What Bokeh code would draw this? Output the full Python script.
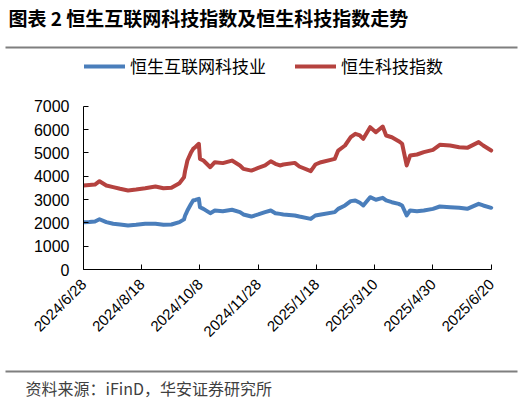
import math
import pandas as pd
from bokeh.plotting import figure
from bokeh.models import (ColumnDataSource, Range1d, FixedTicker, Label,
                          BoxAnnotation, Legend, LegendItem)
from bokeh.embed import file_html
from bokeh.resources import INLINE

dates = [
    "2024-06-28", "2024-07-03", "2024-07-08", "2024-07-12", "2024-07-18", "2024-07-24",
    "2024-07-30", "2024-08-06", "2024-08-13", "2024-08-21", "2024-08-30", "2024-09-06",
    "2024-09-13", "2024-09-20", "2024-09-24", "2024-09-25", "2024-09-26", "2024-09-27",
    "2024-09-30", "2024-10-02", "2024-10-04", "2024-10-07", "2024-10-08", "2024-10-11",
    "2024-10-17", "2024-10-21", "2024-10-28", "2024-11-05", "2024-11-12", "2024-11-15",
    "2024-11-22", "2024-11-28", "2024-12-04", "2024-12-09", "2024-12-13", "2024-12-17",
    "2024-12-20", "2024-12-30", "2025-01-03", "2025-01-13", "2025-01-17", "2025-01-22",
    "2025-02-03", "2025-02-06", "2025-02-12", "2025-02-17", "2025-02-21", "2025-02-25",
    "2025-02-28", "2025-03-06", "2025-03-11", "2025-03-17", "2025-03-20", "2025-03-25",
    "2025-03-31", "2025-04-03", "2025-04-07", "2025-04-10", "2025-04-16", "2025-04-22",
    "2025-04-30", "2025-05-06", "2025-05-15", "2025-05-23", "2025-05-30", "2025-06-09",
    "2025-06-13", "2025-06-20",
]
hs_internet_tech = [
    2030, 2040, 2060, 2155, 2030, 1960,
    1930, 1885, 1915, 1960, 1960, 1915,
    1930, 2030, 2150, 2315, 2420, 2530,
    2800, 2960, 2980, 3030, 2670, 2600,
    2415, 2530, 2500, 2560, 2460, 2360,
    2270, 2360, 2460, 2530, 2415, 2385,
    2360, 2315, 2270, 2170, 2315, 2360,
    2460, 2600, 2745, 2930, 2960, 2860,
    2745, 3100, 2990, 3070, 2960, 2885,
    2815, 2745, 2315, 2530, 2500, 2530,
    2600, 2700, 2670, 2645, 2600, 2815,
    2745, 2645,
]
hs_tech_index = [
    3600, 3620, 3640, 3785, 3600, 3530,
    3460, 3390, 3430, 3485, 3560, 3485,
    3500, 3700, 3950, 4240, 4450, 4670,
    5000, 5170, 5250, 5390, 4740, 4670,
    4385, 4600, 4560, 4670, 4460, 4315,
    4240, 4355, 4460, 4640, 4530, 4460,
    4500, 4570, 4415, 4215, 4500, 4600,
    4740, 5100, 5315, 5670, 5815, 5745,
    5600, 6100, 5885, 6130, 5745, 5670,
    5500, 5390, 4460, 4885, 4930, 5030,
    5130, 5345, 5315, 5240, 5215, 5460,
    5315, 5100,
]
series_names = ["恒生互联网科技业", "恒生科技指数"]
tick_dates = ["2024-06-28", "2024-08-18", "2024-10-08", "2024-11-28",
              "2025-01-18", "2025-03-10", "2025-04-30", "2025-06-20"]
tick_labels = ["2024/6/28", "2024/8/18", "2024/10/8", "2024/11/28",
               "2025/1/18", "2025/3/10", "2025/4/30", "2025/6/20"]
y_ticks = [0, 1000, 2000, 3000, 4000, 5000, 6000, 7000]
y_max = 7000
title_text = "图表 2 恒生互联网科技指数及恒生科技指数走势"
source_text = "资料来源：iFinD，华安证券研究所"

BLUE = "#4a7ebb"
RED = "#b5423f"
RULE = "#7f7f7f"
CJK = "Noto Sans CJK SC"
W = 527


def banner(height):
    f = figure(width=W, height=height, output_backend="svg", toolbar_location=None,
               x_range=Range1d(0, W), y_range=Range1d(0, height),
               x_axis_location=None, y_axis_location=None,
               min_border_left=0, min_border_right=0,
               min_border_top=0, min_border_bottom=0)
    f.outline_line_color = None
    f.grid.visible = False
    return f


# ---------- header (title + rule) ----------
HEAD_H = 52
head = banner(HEAD_H)
head.add_layout(Label(x=8, y=HEAD_H - 17, text=title_text, text_font=CJK,
                      text_font_style="bold", text_font_size="19px",
                      text_baseline="middle", text_color="black"))
head.add_layout(BoxAnnotation(left=5, right=517, top=HEAD_H - 46, bottom=HEAD_H - 48,
                              fill_color=RULE, fill_alpha=1, line_color=None))

# ---------- main chart ----------
MAIN_H = 308
frame_left, frame_bottom = 83, 269 - HEAD_H
axis_right_px = 490.7
axis_top_px = 105.7 - HEAD_H
frame_w = W - frame_left
frame_h = frame_bottom

src = ColumnDataSource(dict(x=pd.to_datetime(dates),
                            internet=hs_internet_tech, tech=hs_tech_index))

x0 = pd.Timestamp(tick_dates[0])
x1 = pd.Timestamp(tick_dates[-1])
x_end = x0 + (x1 - x0) * (frame_w / (axis_right_px - frame_left))
y_end = y_max * frame_h / (frame_bottom - axis_top_px)

p = figure(width=W, height=MAIN_H, x_axis_type="datetime",
           output_backend="svg", toolbar_location=None,
           x_range=Range1d(x0, x_end), y_range=Range1d(0, y_end),
           min_border_left=frame_left, min_border_right=0,
           min_border_top=0, min_border_bottom=MAIN_H - frame_bottom)
p.outline_line_color = None
p.xgrid.visible = False
p.ygrid.visible = False

r1 = p.line("x", "internet", source=src, line_width=4, line_color=BLUE,
            line_join="round", line_cap="round")
r2 = p.line("x", "tech", source=src, line_width=4, line_color=RED,
            line_join="round", line_cap="round")

tick_ms = [int(pd.Timestamp(d).value // 10**6) for d in tick_dates]
p.xaxis.ticker = FixedTicker(ticks=tick_ms)
p.xaxis.major_label_overrides = {t: l for t, l in zip(tick_ms, tick_labels)}
p.xaxis.major_label_orientation = math.pi / 4
p.xaxis.bounds = (x0, x1)
p.yaxis.ticker = FixedTicker(ticks=y_ticks)
p.yaxis.bounds = (0, y_max)

for ax in (p.xaxis, p.yaxis):
    ax.axis_line_color = "black"
    ax.axis_line_width = 1
    ax.major_tick_line_color = "black"
    ax.major_tick_in = 5
    ax.major_tick_out = 0
    ax.minor_tick_line_color = None
    ax.major_label_text_font = "Liberation Sans"
    ax.major_label_text_color = "black"
p.yaxis.major_label_text_font_size = "16px"
p.xaxis.major_label_text_font_size = "15px"
p.yaxis.major_label_standoff = 14
p.xaxis.major_label_standoff = 12

legend = Legend(items=[LegendItem(label=series_names[0], renderers=[r1]),
                       LegendItem(label=series_names[1], renderers=[r2])],
                location=(1, 191), orientation="horizontal",
                glyph_width=41, glyph_height=20, label_standoff=5, spacing=29,
                padding=0, margin=0, border_line_color=None,
                background_fill_alpha=0,
                label_text_font=CJK, label_text_font_size="17px",
                label_text_color="black")
p.add_layout(legend)

# ---------- footer (rule + source) ----------
FOOT_H = 399 - HEAD_H - MAIN_H
foot = banner(FOOT_H)
foot.add_layout(BoxAnnotation(left=5, right=517, top=FOOT_H - 10, bottom=FOOT_H - 12,
                              fill_color=RULE, fill_alpha=1, line_color=None))
foot.add_layout(Label(x=25, y=FOOT_H - 27, text=source_text, text_font=CJK,
                      text_font_size="16px", text_baseline="middle",
                      text_color="#404040"))

open("out.html", "w").write(file_html([head, p, foot], INLINE))
